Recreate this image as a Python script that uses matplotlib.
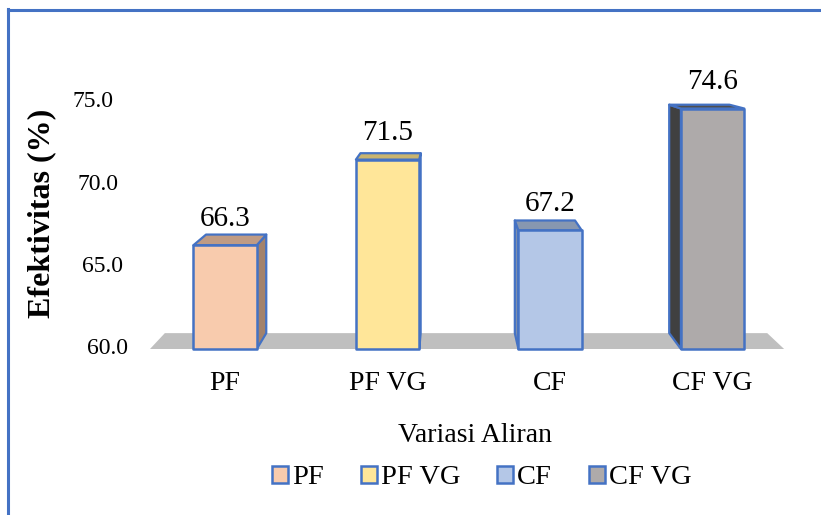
import matplotlib
matplotlib.use("Agg")
import matplotlib.pyplot as plt
from matplotlib.patches import Polygon, Patch
from matplotlib.lines import Line2D
from matplotlib.transforms import blended_transform_factory
import numpy as np

# ---- data ----
categories = ["PF", "PF VG", "CF", "CF VG"]
values = [66.3, 71.5, 67.2, 74.6]
yticks = [60.0, 65.0, 70.0, 75.0]

# ---- styles ----
front_colors = ["#F8CBAD", "#FFE699", "#B4C7E7", "#AEAAAA"]
top_colors = ["#BF9B84", "#C9B46F", "#8797B0", "#4F4F4F"]
side_colors = ["#A3826B", "#B59F5E", "#7D8FAD", "#404040"]
edge_blue = "#4472C4"
floor_color = "#BFBFBF"
serif = ["Liberation Serif", "DejaVu Serif"]

W, H, DPI = 821, 515, 100
fig = plt.figure(figsize=(W / DPI, H / DPI), dpi=DPI)
fig.patch.set_facecolor("white")

ax = fig.add_axes([0, 0, 1, 1])
ax.set_axis_off()
# category spacing and value scale of the plot
ax.set_xlim(-1.385, 3.667)
ax.set_ylim(49.92, 81.19)

bar_half = 0.195          # half width of a bar front, in category units
base = yticks[0]
depth = 0.05              # fraction of distance toward the vanishing point
vp_axes = (0.544, 0.938)  # vanishing point, axes fraction

fig.canvas.draw()
to_disp = ax.transData
to_data = ax.transData.inverted()
vp = np.array(ax.transAxes.transform(vp_axes))


def back(pt_data):
    p = np.array(to_disp.transform(pt_data))
    q = p + depth * (vp - p)
    return to_data.transform(q)


# floor
fl_x0, fl_x1 = -0.462, 3.44
fl = [(fl_x0, base), (fl_x1, base)]
floor_pts = [fl[0], fl[1], back(fl[1]), back(fl[0])]
ax.add_patch(Polygon(floor_pts, closed=True, facecolor=floor_color,
                     edgecolor="none", zorder=1))

vp_data = to_data.transform(vp)
for i, (v, fc, tc, sc) in enumerate(zip(values, front_colors, top_colors, side_colors)):
    xl, xr = i - bar_half, i + bar_half
    fbl, fbr, ftr, ftl = (xl, base), (xr, base), (xr, v), (xl, v)
    bbl, bbr, btr, btl = back(fbl), back(fbr), back(ftr), back(ftl)
    # side face
    if vp_data[0] > xr:
        side = [fbr, ftr, btr, bbr]
    else:
        side = [fbl, ftl, btl, bbl]
    ax.add_patch(Polygon(side, closed=True, facecolor=sc, edgecolor=edge_blue,
                         linewidth=1.6, joinstyle="round", zorder=2 + i))
    # top face
    ax.add_patch(Polygon([ftl, ftr, btr, btl], closed=True, facecolor=tc,
                         edgecolor=edge_blue, linewidth=1.6, joinstyle="round",
                         zorder=2 + i))
    # front face
    ax.add_patch(Polygon([fbl, fbr, ftr, ftl], closed=True, facecolor=fc,
                         edgecolor=edge_blue, linewidth=1.8, joinstyle="round",
                         zorder=2.5 + i))
    # value label
    ax.annotate(f"{v:.1f}", (i, v), xytext=(0, 19), textcoords="offset points",
                ha="center", va="center", fontsize=21, family=serif,
                color="#000000", zorder=10)

# value axis labels (shifted with the perspective)
blend_ay = blended_transform_factory(ax.transAxes, ax.transData)
for t in yticks:
    xr_px = 128 - (t - base) * 1.0
    ax.text(xr_px / W, t, f"{t:.1f}", transform=blend_ay, ha="right",
            va="center", fontsize=17, family=serif, color="#000000")

# category labels
blend_xa = blended_transform_factory(ax.transData, ax.transAxes)
for i, c in enumerate(categories):
    ax.text(i, 1 - 383 / H, c, transform=blend_xa, ha="center", va="center",
            fontsize=20, family=serif, color="#000000")

fig.text(475 / W, 1 - 435 / H, "Variasi Aliran", ha="center", va="center",
         fontsize=20, family=serif, color="#000000")
fig.text(42 / W, 1 - 213 / H, "Efektivitas (%)", ha="center", va="center",
         rotation=90, fontsize=23, fontweight="bold", family=serif,
         color="#000000")

# legend
handles = [Patch(facecolor=c, edgecolor=edge_blue, linewidth=1.8)
           for c in front_colors]
leg = fig.legend(handles, categories, loc="center", bbox_to_anchor=(482 / W, 1 - 478 / H),
                 ncol=4, frameon=False, handlelength=0.55, handleheight=0.55,
                 handletextpad=0.15, columnspacing=1.3,
                 prop={"family": serif, "size": 20.5})

# outer frame
fig.add_artist(Line2D([8 / W, 8 / W], [0, 1 - 9 / H], transform=fig.transFigure,
                      color=edge_blue, linewidth=2.2, solid_capstyle="projecting"))
fig.add_artist(Line2D([8 / W, 1], [1 - 10 / H, 1 - 10 / H], transform=fig.transFigure,
                      color=edge_blue, linewidth=2.2, solid_capstyle="projecting"))

fig.savefig("out.png", dpi=DPI, facecolor="white")
